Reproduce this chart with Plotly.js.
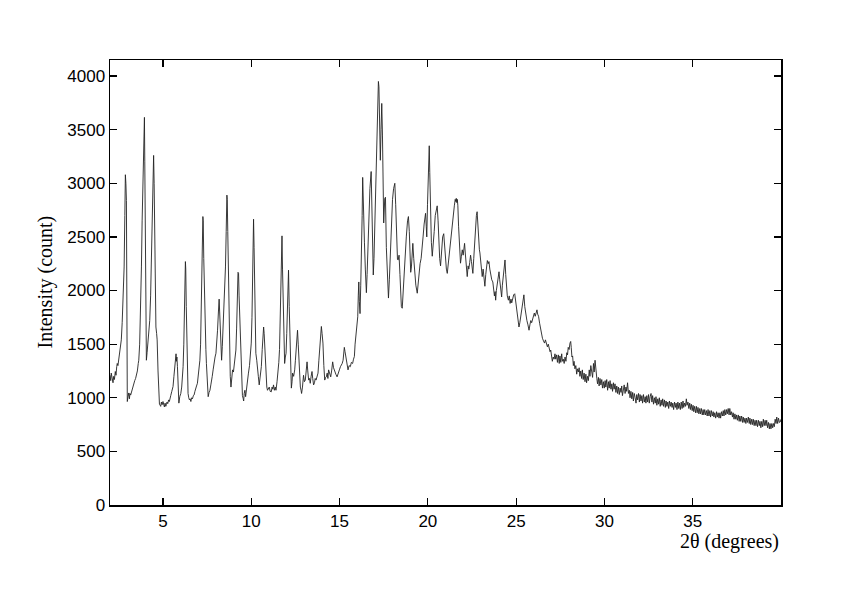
<!DOCTYPE html>
<html>
<head>
<meta charset="utf-8">
<script src="https://cdn.plot.ly/plotly-3.0.1.min.js"></script>
<style>html,body{margin:0;padding:0;background:#fff;}#chart{width:842px;height:595px;}</style>
</head>
<body>
<div id="chart"></div>
<script>
const twoTheta = [
2.00,2.04,2.07,2.11,2.14,2.17,2.21,2.25,2.30,2.34,
2.38,2.41,2.45,2.50,2.55,2.60,2.64,2.69,2.74,2.80,
2.84,2.87,2.90,2.93,2.95,2.98,3.02,3.06,3.10,3.13,
3.17,3.22,3.26,3.30,3.35,3.40,3.45,3.49,3.55,3.60,
3.63,3.68,3.72,3.75,3.78,3.82,3.87,3.92,3.95,3.97,
4.00,4.03,4.06,4.10,4.13,4.16,4.20,4.25,4.30,4.34,
4.39,4.44,4.47,4.50,4.54,4.57,4.60,4.64,4.67,4.72,
4.76,4.80,4.84,4.87,4.91,4.95,5.00,5.04,5.08,5.12,
5.16,5.19,5.23,5.27,5.32,5.36,5.39,5.44,5.50,5.57,
5.62,5.67,5.71,5.74,5.76,5.79,5.82,5.86,5.90,5.95,
6.01,6.06,6.10,6.14,6.18,6.21,6.24,6.27,6.29,6.32,
6.35,6.38,6.42,6.46,6.50,6.54,6.58,6.62,6.67,6.72,
6.76,6.81,6.86,6.90,6.95,7.00,7.05,7.09,7.13,7.18,
7.22,7.26,7.28,7.31,7.34,7.39,7.43,7.46,7.51,7.56,
7.61,7.66,7.71,7.75,7.79,7.84,7.90,7.95,8.00,8.05,
8.09,8.14,8.18,8.21,8.24,8.28,8.32,8.36,8.41,8.46,
8.50,8.54,8.58,8.62,8.64,8.67,8.70,8.74,8.77,8.81,
8.85,8.89,8.94,8.99,9.03,9.08,9.13,9.17,9.21,9.25,
9.28,9.31,9.35,9.40,9.45,9.50,9.54,9.57,9.60,9.64,
9.68,9.73,9.78,9.84,9.90,9.95,10.00,10.04,10.07,10.11,
10.13,10.16,10.19,10.23,10.26,10.31,10.36,10.40,10.45,10.50,
10.57,10.62,10.67,10.70,10.73,10.75,10.79,10.83,10.88,10.92,
10.97,11.02,11.07,11.13,11.18,11.22,11.26,11.31,11.36,11.40,
11.46,11.51,11.56,11.60,11.64,11.68,11.72,11.74,11.77,11.81,
11.85,11.89,11.93,11.97,12.01,12.04,12.08,12.11,12.15,12.19,
12.23,12.27,12.31,12.34,12.40,12.46,12.50,12.53,12.58,12.62,
12.66,12.70,12.74,12.78,12.82,12.85,12.90,12.96,13.01,13.06,
13.11,13.16,13.20,13.25,13.30,13.34,13.39,13.44,13.48,13.53,
13.58,13.62,13.67,13.72,13.78,13.83,13.87,13.92,13.97,14.01,
14.06,14.11,14.16,14.21,14.25,14.30,14.34,14.38,14.44,14.50,
14.55,14.61,14.66,14.72,14.79,14.86,14.92,14.99,15.05,15.10,
15.15,15.20,15.24,15.27,15.31,15.37,15.42,15.48,15.54,15.61,
15.67,15.74,15.79,15.84,15.88,15.93,15.98,16.03,16.06,16.09,
16.12,16.16,16.20,16.24,16.28,16.31,16.34,16.38,16.41,16.46,
16.52,16.56,16.61,16.66,16.72,16.79,16.83,16.87,16.91,16.95,
17.00,17.05,17.10,17.15,17.20,17.23,17.27,17.31,17.35,17.39,
17.43,17.47,17.50,17.56,17.60,17.65,17.70,17.77,17.82,17.88,
17.94,18.00,18.06,18.13,18.18,18.23,18.28,18.32,18.37,18.42,
18.46,18.50,18.55,18.60,18.66,18.72,18.78,18.85,18.90,18.95,
19.00,19.03,19.07,19.12,19.15,19.20,19.26,19.32,19.40,19.45,
19.50,19.56,19.62,19.68,19.73,19.79,19.84,19.87,19.91,19.94,
19.98,20.02,20.06,20.08,20.11,20.15,20.20,20.25,20.30,20.36,
20.42,20.48,20.53,20.58,20.62,20.67,20.72,20.78,20.84,20.90,
20.95,21.00,21.05,21.10,21.16,21.22,21.28,21.33,21.38,21.44,
21.50,21.55,21.58,21.61,21.64,21.67,21.70,21.74,21.78,21.82,
21.85,21.90,21.95,22.00,22.04,22.08,22.12,22.16,22.20,22.23,
22.28,22.32,22.37,22.42,22.47,22.51,22.55,22.60,22.65,22.70,
22.75,22.79,22.83,22.88,22.92,22.95,23.00,23.04,23.08,23.13,
23.18,23.23,23.28,23.33,23.37,23.42,23.46,23.51,23.56,23.62,
23.68,23.72,23.77,23.81,23.84,23.88,23.93,23.98,24.03,24.07,
24.12,24.18,24.22,24.27,24.32,24.37,24.41,24.45,24.50,24.56,
24.61,24.66,24.71,24.75,24.80,24.86,24.92,24.97,25.02,25.07,
25.12,25.16,25.21,25.27,25.33,25.39,25.44,25.49,25.55,25.61,
25.67,25.73,25.78,25.83,25.88,25.93,25.98,26.03,26.08,26.13,
26.18,26.22,26.27,26.33,26.38,26.43,26.49,26.55,26.61,26.66,
26.72,26.77,26.82,26.87,26.92,26.96,27.01,27.05,27.10,27.15,
27.20,27.24,27.29,27.34,27.39,27.44,27.48,27.53,27.58,27.62,
27.67,27.72,27.77,27.82,27.87,27.91,27.95,28.00,28.05,28.09,
28.12,28.16,28.20,28.24,28.28,28.33,28.38,28.43,28.47,28.52,
28.57,28.61,28.66,28.71,28.75,28.80,28.85,28.90,28.95,28.99,
29.04,29.09,29.14,29.18,29.23,29.28,29.33,29.38,29.42,29.47,
29.52,29.57,29.61,29.66,29.70,29.75,29.80,29.85,29.89,29.94,
29.99,30.04,30.08,30.13,30.18,30.23,30.27,30.32,30.37,30.42,
30.46,30.51,30.55,30.60,30.65,30.70,30.74,30.79,30.84,30.89,
30.94,30.98,31.02,31.07,31.12,31.17,31.22,31.26,31.31,31.36,
31.41,31.45,31.50,31.55,31.60,31.64,31.69,31.74,31.79,31.83,
31.88,31.93,31.98,32.02,32.07,32.12,32.16,32.21,32.26,32.31,
32.35,32.40,32.45,32.50,32.54,32.59,32.64,32.69,32.73,32.78,
32.83,32.88,32.92,32.97,33.02,33.07,33.11,33.16,33.21,33.26,
33.30,33.35,33.40,33.45,33.49,33.54,33.59,33.64,33.68,33.73,
33.78,33.83,33.87,33.92,33.97,34.02,34.06,34.11,34.16,34.21,
34.25,34.30,34.35,34.40,34.45,34.49,34.54,34.59,34.64,34.68,
34.73,34.78,34.83,34.87,34.92,34.97,35.02,35.06,35.11,35.16,
35.21,35.25,35.30,35.35,35.40,35.44,35.49,35.54,35.59,35.63,
35.68,35.73,35.78,35.82,35.87,35.92,35.97,36.01,36.06,36.11,
36.16,36.20,36.25,36.30,36.35,36.39,36.44,36.49,36.54,36.58,
36.63,36.68,36.73,36.77,36.82,36.87,36.92,36.96,37.01,37.06,
37.10,37.15,37.20,37.25,37.29,37.34,37.39,37.44,37.48,37.53,
37.58,37.63,37.67,37.72,37.77,37.82,37.86,37.91,37.96,38.01,
38.05,38.10,38.15,38.20,38.24,38.29,38.34,38.39,38.43,38.48,
38.53,38.58,38.62,38.67,38.72,38.77,38.81,38.86,38.91,38.96,
39.00,39.05,39.10,39.15,39.19,39.24,39.29,39.34,39.38,39.43,
39.48,39.53,39.57,39.62,39.67,39.72,39.76,39.81,39.86,39.91,
39.96,40.00
];

const intensity = [
1210,1160,1230,1180,1150,1140,1200,1170,1245,1210,
1290,1320,1300,1360,1385,1450,1540,1700,1910,2220,
2700,3080,3000,2840,1900,965,1010,1045,990,1040,
1025,1060,1080,1100,1130,1160,1180,1200,1250,1320,
1350,1500,1710,1950,2220,2650,3150,3500,3615,3200,
2540,1800,1350,1420,1480,1540,1620,1720,1950,2220,
2700,3150,3260,3000,2540,1900,1660,1600,1540,1250,
980,940,930,920,960,935,965,940,915,950,
920,935,960,945,980,965,995,1020,1060,1105,
1200,1320,1380,1410,1340,1380,1290,1000,950,1010,
1040,1100,1180,1290,1500,1700,1910,2270,2200,1850,
1600,1250,1040,1000,980,990,965,1000,990,1020,
1025,1060,1080,1110,1135,1200,1280,1350,1500,1910,
2250,2690,2650,2300,2000,1540,1450,1320,1150,1010,
1050,1070,1120,1150,1200,1260,1350,1380,1415,1500,
1630,1800,1920,1800,1650,1450,1350,1480,1690,1750,
1900,2220,2550,2890,2850,2550,2200,1700,1350,1200,
1100,1180,1260,1240,1290,1350,1445,1650,1910,2170,
2160,1950,1750,1400,1100,1020,995,970,1040,1070,
1010,1100,1130,1230,1300,1400,1510,1750,1975,2500,
2665,2400,2130,1700,1415,1350,1290,1200,1120,1200,
1290,1450,1600,1660,1600,1510,1350,1165,1100,1070,
1090,1100,1060,1055,1100,1080,1120,1070,1100,1070,
1150,1230,1330,1450,1700,1975,2350,2510,2200,1820,
1550,1320,1380,1415,1600,1790,2000,2190,1850,1510,
1250,1090,1150,1230,1200,1260,1350,1445,1550,1630,
1500,1350,1200,1100,1070,1040,1100,1210,1150,1165,
1250,1335,1250,1165,1180,1135,1200,1245,1180,1120,
1140,1180,1165,1200,1230,1350,1445,1560,1665,1600,
1510,1300,1165,1190,1195,1230,1180,1260,1220,1195,
1250,1335,1280,1245,1220,1195,1240,1260,1290,1305,
1320,1350,1420,1470,1430,1350,1290,1260,1300,1290,
1330,1320,1360,1385,1500,1600,1700,1755,1950,2080,
1900,1785,2050,2285,2700,3055,2800,2500,2445,2200,
1980,2150,2400,2700,2950,3110,2800,2400,2145,2300,
2600,3000,3400,3700,3950,3900,3600,3215,3500,3745,
3450,3000,2630,2860,2870,2400,2100,1930,2100,2400,
2650,2850,2950,3000,2800,2500,2290,2285,2330,2150,
2000,1850,1835,2000,2200,2350,2500,2650,2690,2550,
2250,2170,2220,2400,2440,2300,2150,2050,1975,2080,
2150,2250,2300,2380,2500,2620,2700,2720,2600,2500,
2800,3100,3300,3350,3100,2700,2450,2320,2400,2550,
2700,2760,2790,2650,2450,2300,2230,2350,2500,2530,
2400,2280,2200,2160,2260,2380,2480,2520,2600,2700,
2790,2850,2830,2860,2820,2850,2790,2600,2400,2300,
2255,2320,2380,2330,2380,2440,2350,2250,2180,2130,
2230,2200,2260,2330,2270,2200,2160,2300,2450,2600,
2700,2735,2600,2450,2380,2350,2250,2180,2130,2200,
2100,2040,2150,2200,2280,2250,2270,2200,2150,2100,
2080,2000,1950,1990,1910,2000,2080,2150,2175,2100,
2000,1940,2050,2150,2250,2285,2150,2000,1950,1910,
1950,1880,1920,1885,1930,1960,1970,1900,1800,1750,
1700,1660,1700,1780,1850,1920,1960,1850,1770,1720,
1680,1630,1680,1720,1700,1740,1760,1790,1760,1800,
1820,1780,1760,1695,1640,1600,1555,1530,1510,1540,
1490,1475,1500,1450,1430,1445,1380,1340,1380,1360,
1410,1360,1400,1330,1400,1320,1390,1330,1410,1340,
1360,1320,1380,1340,1420,1400,1470,1450,1510,1525,
1470,1380,1390,1300,1340,1270,1300,1220,1270,1240,
1280,1200,1250,1180,1260,1170,1230,1150,1220,1140,
1200,1160,1260,1200,1300,1230,1190,1320,1240,1350,
1210,1180,1130,1190,1110,1180,1120,1170,1090,1150,
1090,1160,1100,1170,1070,1150,1090,1160,1080,1130,
1060,1140,1080,1130,1050,1110,1040,1100,1030,1090,
1050,1110,1020,1090,1120,1040,1100,1060,1140,1040,
1070,1000,1060,990,1050,970,1040,1000,950,1030,
980,1040,960,1030,970,1020,950,1030,960,1010,
950,1020,960,1030,950,1010,1040,960,1020,940,
1000,950,1010,930,990,940,1000,920,980,930,
990,920,980,910,970,920,960,900,970,920,
960,910,950,890,960,910,950,890,960,900,
950,890,960,900,970,910,950,920,990,930,
960,900,950,890,940,880,930,870,920,860,
920,860,910,850,900,850,900,840,890,840,
890,840,880,830,890,830,880,820,880,830,
870,820,860,810,870,820,860,810,860,810,
870,830,880,830,890,840,890,850,900,840,
900,840,870,820,860,800,850,800,840,790,
840,780,830,780,830,770,820,770,810,760,
810,770,820,760,810,750,800,750,800,740,
790,740,790,730,790,740,780,720,780,730,
800,740,790,740,790,720,770,710,760,710,
760,720,760,730,800,760,820,760,810,770,
775,800
];

const xTicks = [5, 10, 15, 20, 25, 30, 35];
const yTicks = [0, 500, 1000, 1500, 2000, 2500, 3000, 3500, 4000];
const xLabel = '2θ (degrees)';
const yLabel = 'Intensity (count)';

const trace = {
  x: twoTheta,
  y: intensity,
  type: 'scatter',
  mode: 'lines',
  line: {color: '#222', width: 0.9},
  hoverinfo: 'skip'
};

const tickFont = {family: '"Liberation Sans", Arial, sans-serif', size: 17, color: '#000'};
const titleFont = {family: '"Liberation Serif", "Times New Roman", serif', size: 20, color: '#000'};

const axisCommon = {
  showgrid: false,
  zeroline: false,
  showline: true,
  linecolor: '#000',
  linewidth: 1.5,
  mirror: 'ticks',
  ticks: 'inside',
  ticklen: 7,
  tickwidth: 1.2,
  tickcolor: '#000',
  tickfont: tickFont
};

const layout = {
  width: 842,
  height: 595,
  margin: {l: 110, r: 61, t: 60, b: 90},
  paper_bgcolor: '#fff',
  plot_bgcolor: '#fff',
  showlegend: false,
  xaxis: Object.assign({}, axisCommon, {
    range: [2, 40],
    tickmode: 'array',
    tickvals: xTicks,
    ticktext: xTicks.map(String)
  }),
  yaxis: Object.assign({}, axisCommon, {
    range: [0, 4150],
    tickmode: 'array',
    tickvals: yTicks,
    ticktext: yTicks.map(String)
  }),
  annotations: [
    {text: xLabel, xref: 'paper', yref: 'paper', x: 1, y: 0, xanchor: 'right', yanchor: 'middle',
     yshift: -36, showarrow: false, font: titleFont},
    {text: yLabel, xref: 'paper', yref: 'paper', x: 0, y: 0.5, xanchor: 'center', yanchor: 'middle',
     xshift: -65, textangle: -90, showarrow: false, font: titleFont}
  ]
};

Plotly.newPlot('chart', [trace], layout, {displayModeBar: false, staticPlot: true});
</script>
</body>
</html>
